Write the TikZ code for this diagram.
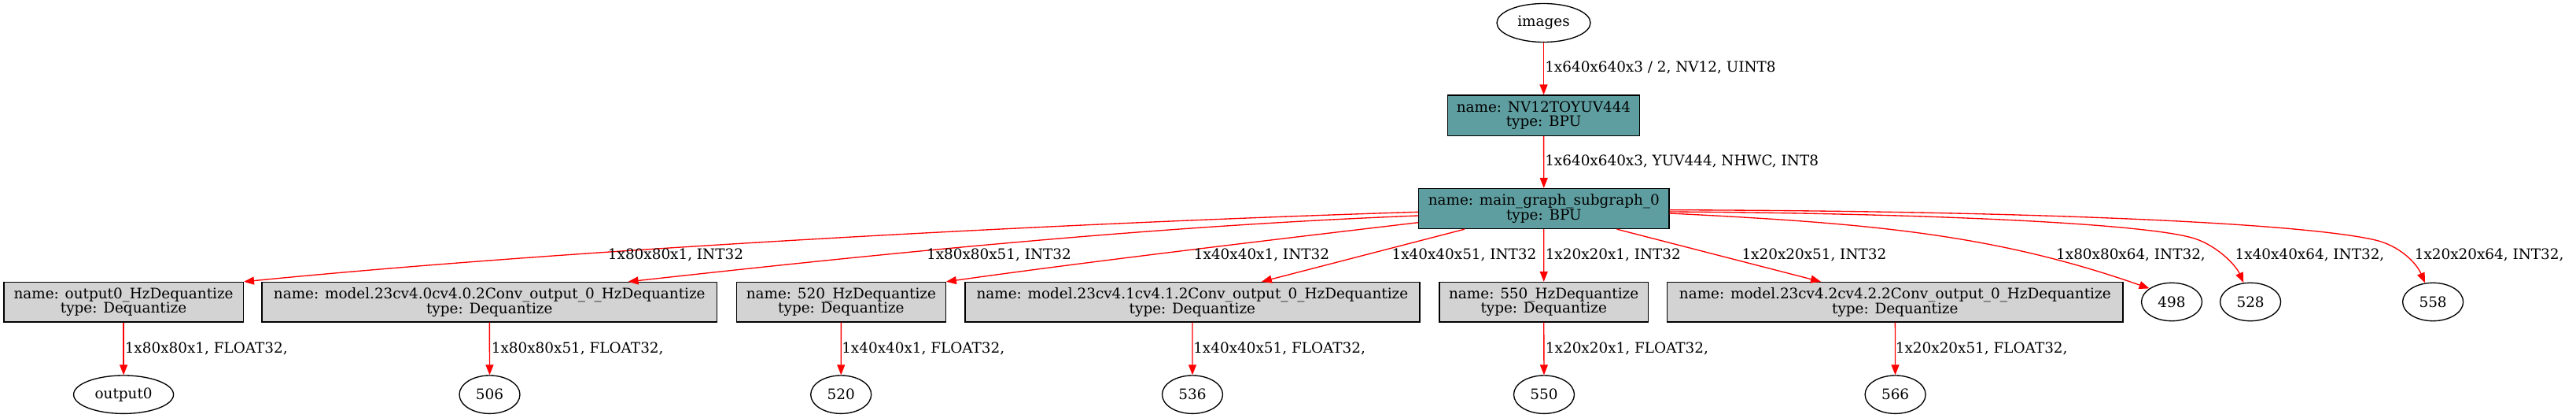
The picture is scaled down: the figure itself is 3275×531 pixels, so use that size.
\documentclass[tikz,border=0pt]{standalone}
\usepackage{fontspec}
\setmainfont{DejaVu Serif}
\usetikzlibrary{shapes.geometric,arrows.meta,calc}
\definecolor{cadet}{HTML}{5F9EA0}
\definecolor{lgray}{HTML}{D3D3D3}
\tikzset{
  box/.style={rectangle, draw=black, line width=1pt, inner sep=0pt, align=center, minimum height=37.9pt},
  bpu/.style={box, fill=cadet},
  deq/.style={box, fill=lgray},
  ell/.style={ellipse, draw=black, line width=1pt, inner sep=0pt, minimum width=57.75pt, minimum height=36.3pt},
  edge/.style={draw=red, line width=1pt, -{Triangle[length=9.75pt,width=7.5pt]}},
  lab/.style={inner sep=0pt},
}
\begin{document}
\begin{tikzpicture}[x=0.75pt,y=-0.75pt,font=\fontsize{13.8}{14}\selectfont]
\path[use as bounding box] (0,0) rectangle (3275,531);

% nodes
\node[ell, minimum width=89.25pt, minimum height=36.75pt] (images) at (1962.5,29) {images};
\node[bpu, minimum width=182.6pt, minimum height=38.5pt] (nv12) at (1962.5,146.7) {name: NV12TOYUV444\\type: BPU};
\node[bpu, minimum width=238.7pt, minimum height=38.25pt] (main) at (1962.8,265) {name: main\_graph\_subgraph\_0\\type: BPU};

\node[deq, minimum width=228.4pt] (d0) at (157.1,383.8) {name: output0\_HzDequantize\\type: Dequantize};
\node[deq, minimum width=434pt] (d1) at (622.3,383.8) {name: model.23cv4.0cv4.0.2Conv\_output\_0\_HzDequantize\\type: Dequantize};
\node[deq, minimum width=199.2pt] (d2) at (1069.4,383.8) {name: 520\_HzDequantize\\type: Dequantize};
\node[deq, minimum width=433.5pt] (d3) at (1515.9,383.8) {name: model.23cv4.1cv4.1.2Conv\_output\_0\_HzDequantize\\type: Dequantize};
\node[deq, minimum width=199.2pt] (d4) at (1962.7,383.8) {name: 550\_HzDequantize\\type: Dequantize};
\node[deq, minimum width=434.4pt] (d5) at (2409.3,383.8) {name: model.23cv4.2cv4.2.2Conv\_output\_0\_HzDequantize\\type: Dequantize};

\node[ell] (e498) at (2761,383.5) {498};
\node[ell] (e528) at (2861.1,383.5) {528};
\node[ell] (e558) at (3093.1,383.5) {558};

\node[ell, minimum width=95.25pt] (o0) at (157.1,501.2) {output0};
\node[ell] (o506) at (622.5,501.2) {506};
\node[ell] (o520) at (1069.2,501.2) {520};
\node[ell] (o536) at (1516,501.2) {536};
\node[ell] (o550) at (1963,501.2) {550};
\node[ell] (o566) at (2409.6,501.2) {566};

% edges
\draw[edge] (images) -- (nv12);
\draw[edge] (nv12) -- (main);

\draw[edge] ($(main.west)+(0,4.3)$) .. controls +(-500.6,15.7) and +(390.6,-38.7) .. (d0.north east);
\draw[edge] ($(main.west)+(0,9)$) .. controls +(-333.6,13) and +(331.4,-36.7) .. ($(d1.north)+(176.3,0)$);
\draw[edge] ($(main.west)+(0,17.7)$) .. controls +(-103.6,12.3) and +(197.4,-28) .. (d2.north east);
\draw[edge] ($(main.south)+(-100.8,0)$) -- ($(d3.north)+(88,0)$);
\draw[edge] (main.south) -- (d4.north);
\draw[edge] ($(main.south)+(92.8,0)$) -- ($(d5.north)+(-94.3,0)$);

\draw[edge] ($(main.east)+(0,6)$) .. controls +(250,12.5) and +(-200,-70) .. (e498.149);
\draw[edge] ($(main.east)+(0,4)$) .. controls +(330,2) and +(-60,-19) .. (2790,303) .. controls +(28,9) and +(-10,-23) .. (e528.110);
\draw[edge] ($(main.east)+(0,1.7)$) .. controls +(478,1.3) and +(-90,-21) .. (3020,305) .. controls +(30,7) and +(-11,-26) .. (e558.113);

\draw[edge] (d0) -- (o0);
\draw[edge] (d1) -- (o506);
\draw[edge] (d2) -- (o520);
\draw[edge] (d3) -- (o536);
\draw[edge] (d4) -- (o550);
\draw[edge] (d5) -- (o566);

% edge labels
\node[lab, anchor=west] (l1) at (1964,86) {1x640x640x3 / 2, NV12, UINT8};
\node[lab, anchor=west] (l2) at (1964,205) {1x640x640x3, YUV444, NHWC, INT8};

\node[lab] (l3) at (859,323.5) {1x80x80x1, INT32};
\node[lab] (l4) at (1270,323.5) {1x80x80x51, INT32};
\node[lab] (l5) at (1604,323.5) {1x40x40x1, INT32};
\node[lab] (l6) at (1861.5,323.5) {1x40x40x51, INT32};
\node[lab] (l7) at (2050.8,323.5) {1x20x20x1, INT32};
\node[lab] (l8) at (2306.4,323.5) {1x20x20x51, INT32};
\node[lab] (l9) at (2709,323.5) {1x80x80x64, INT32,};
\node[lab] (l10) at (2936.5,323.5) {1x40x40x64, INT32,};
\node[lab] (l11) at (3164.6,323.5) {1x20x20x64, INT32,};

\node[lab, anchor=west] (l12) at (158.5,442.7) {1x80x80x1, FLOAT32,};
\node[lab, anchor=west] (l13) at (624.6,442.7) {1x80x80x51, FLOAT32,};
\node[lab, anchor=west] (l14) at (1070,442.7) {1x40x40x1, FLOAT32,};
\node[lab, anchor=west] (l15) at (1517,442.7) {1x40x40x51, FLOAT32,};
\node[lab, anchor=west] (l16) at (1964.7,442.7) {1x20x20x1, FLOAT32,};
\node[lab, anchor=west] (l17) at (2409.6,442.7) {1x20x20x51, FLOAT32,};
\end{tikzpicture}
\end{document}
